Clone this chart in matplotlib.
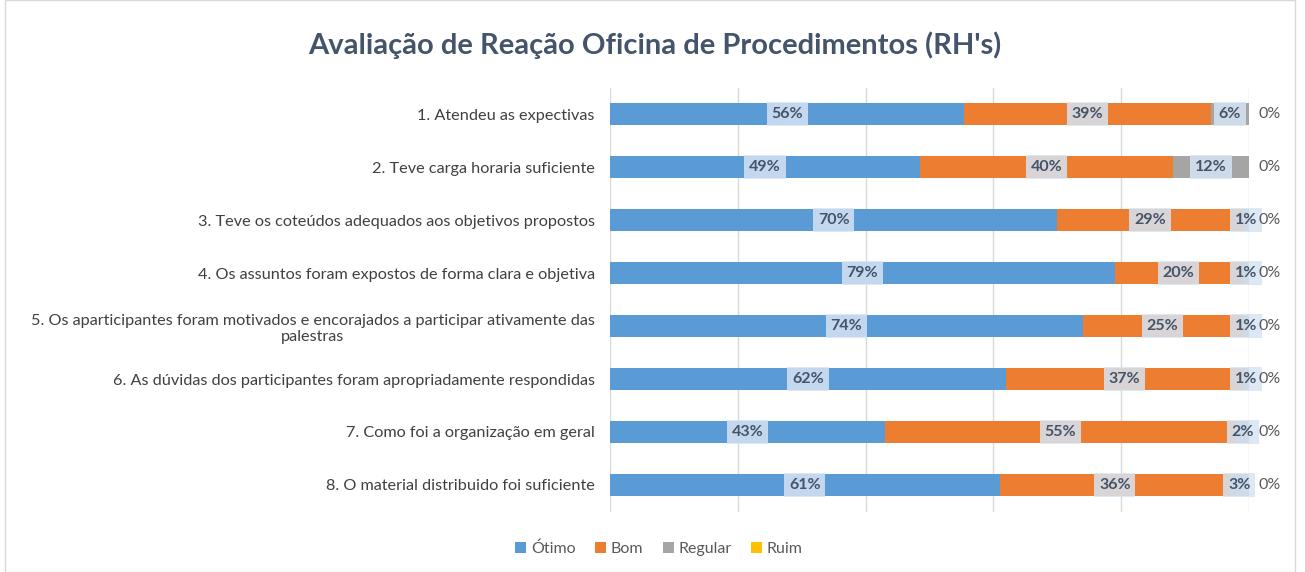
import numpy as np
import matplotlib.pyplot as plt
from matplotlib.patches import Rectangle

plt.rcParams['font.family'] = ['Lato', 'DejaVu Sans']

# Data
questions = [
    "1. Atendeu as expectivas",
    "2. Teve carga horaria suficiente",
    "3. Teve os coteúdos adequados aos objetivos propostos",
    "4. Os assuntos foram expostos de forma clara e objetiva",
    "5. Os aparticipantes foram motivados e encorajados a participar ativamente das\npalestras",
    "6. As dúvidas dos participantes foram apropriadamente respondidas",
    "7. Como foi a organização em geral",
    "8. O material distribuido foi suficiente",
]
otimo = [56, 49, 70, 79, 74, 62, 43, 61]
bom = [39, 40, 29, 20, 25, 37, 55, 36]
regular = [6, 12, 1, 1, 1, 1, 2, 3]
ruim = [0, 0, 0, 0, 0, 0, 0, 0]

series_names = ["Ótimo", "Bom", "Regular", "Ruim"]
colors = ["#5b9bd5", "#ed7d31", "#a5a5a5", "#ffc000"]
text_color = "#44546a"

data = np.array([otimo, bom, regular, ruim], dtype=float)
totals = data.sum(axis=0)
shares = data / totals * 100  # 100% stacked

fig = plt.figure(figsize=(13.05, 5.72), dpi=100)
ax = fig.add_axes([610 / 1305, 1 - 511.5 / 572, 639 / 1305, 424 / 572])

y = np.arange(len(questions))
left = np.zeros(len(questions))
for i, (name, col) in enumerate(zip(series_names, colors)):
    ax.barh(y, shares[i], left=left, height=0.42, color=col, label=name, zorder=2)
    for j in range(len(questions)):
        lab = f"{int(data[i, j])}%"
        if i < 3:
            ax.text(left[j] + shares[i, j] / 2, y[j], lab, ha='center', va='center',
                    fontsize=11.5, fontweight='bold', color=text_color, zorder=4,
                    bbox=dict(boxstyle='square,pad=0.3', facecolor='#d6e4f3',
                              edgecolor='none', alpha=0.85))
        else:
            ax.text(101.5, y[j], lab, ha='left', va='center', fontsize=11.5,
                    color='#595959', zorder=4, clip_on=False)
    left += shares[i]

ax.set_xlim(0, 100)
ax.set_ylim(len(questions) - 0.5, -0.5)
ax.set_xticks([0, 20, 40, 60, 80, 100])
ax.set_xticklabels([])
ax.tick_params(axis='x', length=0)
ax.tick_params(axis='y', length=0, pad=11)
ax.set_yticks(y)
ax.set_yticklabels(questions, fontsize=11.7, color='#404040', multialignment='center')
ax.grid(axis='x', color='#d9d9d9', linewidth=1, zorder=0)
for s in ax.spines.values():
    s.set_visible(False)

fig.suptitle("Avaliação de Reação Oficina de Procedimentos (RH's)", x=655 / 1305,
             y=1 - 45 / 572, va='center', fontsize=21, fontweight='bold', color=text_color)

fig.legend(loc='center', bbox_to_anchor=(659 / 1305, 1 - 549 / 572), ncol=4,
           frameon=False, fontsize=11.5, handlelength=0.7, handleheight=0.7,
           handletextpad=0.3, columnspacing=1.2, labelcolor='#595959')

fig.patches.append(Rectangle((5 / 1305, 0), 1290 / 1305, 1, transform=fig.transFigure,
                             fill=False, edgecolor='#d9d9d9', linewidth=1))

fig.savefig("out.png", dpi=100)
